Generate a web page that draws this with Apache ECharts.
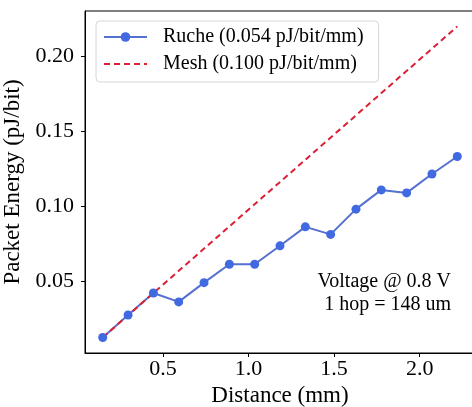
<!DOCTYPE html>
<html>
<head>
<meta charset="utf-8">
<script src="https://cdn.jsdelivr.net/npm/echarts@6/dist/echarts.min.js"></script>
<style>html,body{margin:0;padding:0;background:#fff}#c{width:472px;height:407px}</style>
</head>
<body>
<div id="c"></div>
<script>
const distances = [0.148, 0.296, 0.444, 0.592, 0.740, 0.888, 1.036, 1.184, 1.332, 1.480, 1.628, 1.776, 1.924, 2.072, 2.220];
const rucheEnergy = [0.0126, 0.0276, 0.0422, 0.0363, 0.0491, 0.0613, 0.0613, 0.0736, 0.0862, 0.0812, 0.0980, 0.1108, 0.1088, 0.1214, 0.1330];
const meshDistances = [0.148, 2.220];
const meshEnergy = [0.0126, 0.2195];
const xTicks = [0.5, 1.0, 1.5, 2.0];
const yTicks = [0.05, 0.10, 0.15, 0.20];
const seriesNames = ['Ruche (0.054 pJ/bit/mm)', 'Mesh (0.100 pJ/bit/mm)'];
const annotation = ['Voltage @ 0.8 V', '1 hop = 148 um'];

const FONT = 'Liberation Serif';
const chart = echarts.init(document.getElementById('c'), null, {renderer: 'canvas'});
chart.setOption({
  animation: false,
  backgroundColor: '#fff',
  textStyle: {fontFamily: FONT},
  grid: {left: 85, right: -3, top: 11, bottom: 54, outerBoundsMode: 'none', containLabel: false, show: true, borderColor: '#000', borderWidth: 1, backgroundColor: 'transparent'},
  xAxis: {
    type: 'value', min: 0.0444, max: 2.3236,
    name: 'Distance (mm)', nameLocation: 'middle', nameGap: 30,
    nameTextStyle: {fontFamily: FONT, fontSize: 23, color: '#000'},
    axisLine: {show: true, lineStyle: {color: '#000', width: 1}},
    axisTick: {show: true, length: 4, customValues: xTicks, lineStyle: {color: '#000'}},
    axisLabel: {customValues: xTicks, margin: 5, fontFamily: FONT, fontSize: 22, color: '#000', formatter: v => v.toFixed(1)},
    splitLine: {show: false}
  },
  yAxis: {
    type: 'value', min: 0.0023, max: 0.2298,
    name: 'Packet Energy (pJ/bit)', nameLocation: 'middle', nameGap: 52,
    nameTextStyle: {fontFamily: FONT, fontSize: 23, color: '#000'},
    axisLine: {show: true, lineStyle: {color: '#000', width: 1}},
    axisTick: {show: true, length: 4, customValues: yTicks, lineStyle: {color: '#000'}},
    axisLabel: {customValues: yTicks, margin: 11, fontFamily: FONT, fontSize: 22, color: '#000', formatter: v => v.toFixed(2)},
    splitLine: {show: false}
  },
  legend: {
    orient: 'vertical', left: 96, top: 21,
    padding: [6, 15, 8, 7], itemGap: 7, itemWidth: 43, itemHeight: 12,
    backgroundColor: 'rgba(255,255,255,0.8)', borderColor: '#d6d6d6', borderWidth: 1, borderRadius: 4,
    textStyle: {fontFamily: FONT, fontSize: 20, color: '#000', padding: [0, 0, 0, 11]},
    data: [{name: seriesNames[0]}, {name: seriesNames[1], itemStyle: {opacity: 0}}]
  },
  series: [
    {
      name: seriesNames[0], type: 'line',
      data: distances.map((d, i) => [d, rucheEnergy[i]]),
      symbol: 'circle', symbolSize: 9,
      itemStyle: {color: '#4169E1'},
      lineStyle: {color: '#5470d0', width: 2}
    },
    {
      name: seriesNames[1], type: 'line',
      data: meshDistances.map((d, i) => [d, meshEnergy[i]]),
      symbol: 'none', showSymbol: false,
      itemStyle: {color: '#dc1f35'},
      lineStyle: {color: '#dc1f35', width: 2, type: [6, 4]},
      z: 3
    }
  ],
  graphic: annotation.map((t, i) => ({
    type: 'text', right: 21, top: 272 + i * 23,
    style: {text: t, fontFamily: FONT, fontSize: 20, fill: '#000'}
  }))
});
</script>
</body>
</html>
